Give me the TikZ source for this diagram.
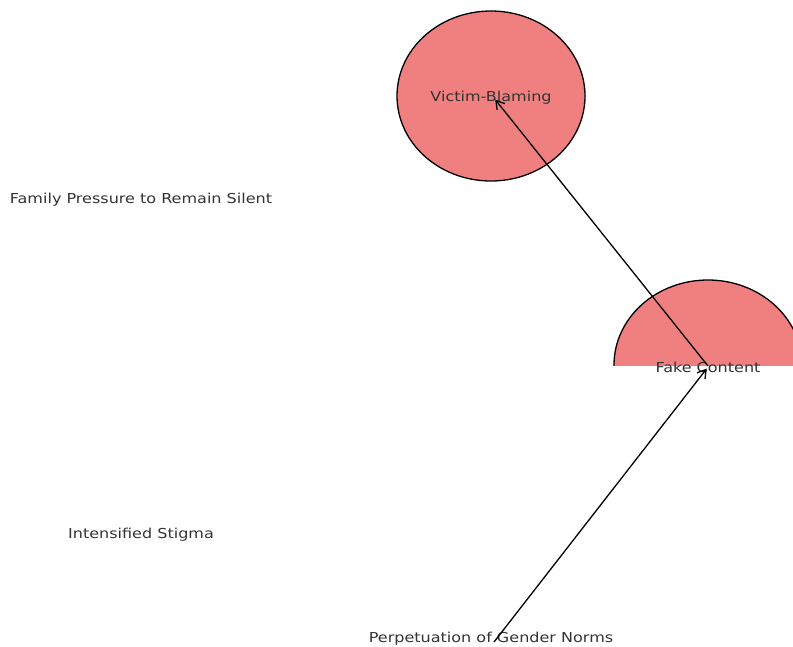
\documentclass[tikz,border=0pt]{standalone}
\usepackage{fontspec}
\setmainfont{DejaVu Sans}
\newfontfamily\widesans[FakeStretch=1.17]{DejaVu Sans}
\usepackage{tikz}
\usepackage{xcolor}
\usetikzlibrary{arrows.meta,shapes,positioning}
\definecolor{blamered}{RGB}{240,128,128}
\definecolor{labelgray}{RGB}{51,51,51}
\tikzset{
  lbl/.style={text=labelgray, font=\widesans\fontsize{13.7}{15}\selectfont, inner sep=0pt},
  blob/.style={fill=blamered, draw=black, line width=1.3pt},
  link/.style={-{Straight Barb[length=8pt,width=10pt]}, line width=1.3pt, shorten >=2pt}
}

\begin{document}
\begin{tikzpicture}[x=1pt,y=-1pt]
                \useasboundingbox (0,0) rectangle (793,646);
                % circles behind the labels
                \draw[blob] (491,96) ellipse [x radius=94, y radius=85];
                \begin{scope}
                  \clip (0,0) rectangle (793,365);
                  \fill[blamered] (708,365) ellipse [x radius=94, y radius=85];
                  \draw[line width=1.3pt] (708,365) ellipse [x radius=94, y radius=85];
                \end{scope}
                % labels
                \node[lbl] (victim) at (491,98) {Victim-Blaming};
                \node[lbl] (family) at (141,200) {Family Pressure to Remain Silent};
                \node[lbl] (fake) at (708,367) {Fake Content};
                \node[lbl] (stigma) at (141,535) {Intensified Stigma};
                \node[lbl] (norms) at (491,639) {Perpetuation of Gender Norms};
                % links
                \draw[link] ([yshift=1pt]fake.center) -- ([xshift=3pt]victim.center);
                \draw[link] ([xshift=3pt,yshift=-3pt]norms.center) -- (fake.center);
            \end{tikzpicture}
\end{document}
